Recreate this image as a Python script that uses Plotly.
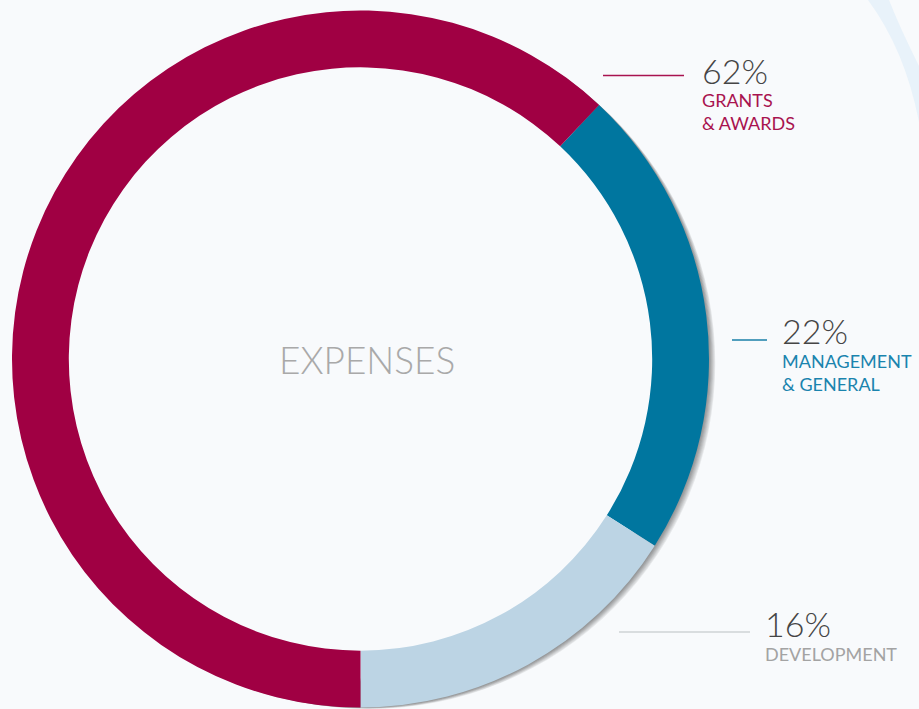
import plotly.graph_objects as go

W, H = 919, 709

# ---- data ----
categories = ["MANAGEMENT<br>& GENERAL", "DEVELOPMENT", "GRANTS<br>& AWARDS"]
values = [22, 16, 62]
slice_colors = ["#00769F", "#BCD4E4", "#A00043"]
label_colors = ["#1A84AE", "#A3A3A3", "#A8134F"]
center_title = "EXPENSES"

# ---- geometry (pixels) ----
cx, cy, R = 360.5, 359.0, 348.5
hole = 0.837


def dom(x, y, r):
    return dict(x=[(x - r) / W, (x + r) / W],
                y=[max(0.0, 1 - (y + r) / H), min(1.0, 1 - (y - r) / H)])


def px(x, y):
    return x / W, 1 - y / H


fig = go.Figure()

# soft shadow layers
for k in range(1, 8):
    r = R - 0.4 * k
    fig.add_trace(go.Pie(
        values=[1], labels=["s"], sort=False, hole=(R - 30) / r,
        marker=dict(colors=["rgba(0,0,0,0.065)"], line=dict(width=0)),
        textinfo="none", hoverinfo="skip", showlegend=False,
        domain=dom(cx + 1.3 * k, cy + 0.6 * k, r)))

fig.add_trace(go.Pie(
    labels=categories, values=values, sort=False, direction="clockwise",
    rotation=43.2, hole=hole,
    marker=dict(colors=slice_colors, line=dict(width=0)),
    textinfo="none", hoverinfo="skip", showlegend=False,
    domain=dom(cx, cy, R)))

# label layout (pixel positions)
pct_pos = [(780, 331), (763, 623), (700, 71)]
lab_pos = [(780, 373), (763, 654), (700, 112)]
line_pos = [(732, 767, 340, "#1A7FA8"), (619, 750, 632, "#CFD3D6"), (603, 684, 75.5, "#A8134F")]

annotations = []
shapes = []
for i, cat in enumerate(categories):
    x, y = px(*pct_pos[i])
    annotations.append(dict(x=x, y=y, xref="paper", yref="paper", xanchor="left", yanchor="middle",
                            text=f"{values[i]}%", showarrow=False,
                            font=dict(family="Lato", size=34, color="#454545", weight=300)))
    x, y = px(*lab_pos[i])
    annotations.append(dict(x=x, y=y, xref="paper", yref="paper", xanchor="left", yanchor="middle",
                            text=cat, showarrow=False, align="left",
                            font=dict(family="Lato", size=18, color=label_colors[i], weight=400)))
    x0, x1, ly, lc = line_pos[i]
    a0, b0 = px(x0, ly)
    a1, b1 = px(x1, ly)
    shapes.append(dict(type="line", xref="paper", yref="paper", x0=a0, y0=b0, x1=a1, y1=b1,
                       line=dict(color=lc, width=1.5)))

x, y = px(367, 359)
annotations.append(dict(x=x, y=y, xref="paper", yref="paper", xanchor="center", yanchor="middle",
                        text=center_title, showarrow=False,
                        font=dict(family="Lato", size=37, color="#A9A9A9", weight=300)))

# faint decorative arc in the background (upper right)
pts = [(868, 0), (905, 50), (919, 122), (919, 66), (900, 28), (889, 0)]
pp = [px(a, b) for a, b in pts]
path = (f"M {pp[0][0]},{pp[0][1]} Q {pp[1][0]},{pp[1][1]} {pp[2][0]},{pp[2][1]} "
        f"L {pp[3][0]},{pp[3][1]} Q {pp[4][0]},{pp[4][1]} {pp[5][0]},{pp[5][1]} Z")
shapes.insert(0, dict(type="path", xref="paper", yref="paper", path=path,
                      fillcolor="rgba(222,236,249,0.6)", line=dict(width=0), layer="below"))

fig.update_layout(
    width=W, height=H, margin=dict(l=0, r=0, t=0, b=0),
    paper_bgcolor="#F8FAFC", plot_bgcolor="#F8FAFC",
    annotations=annotations, shapes=shapes, showlegend=False,
)

fig.write_html("out.html", config={"displayModeBar": False},
               post_script="document.body.style.margin='0';document.body.style.overflow='hidden';")
